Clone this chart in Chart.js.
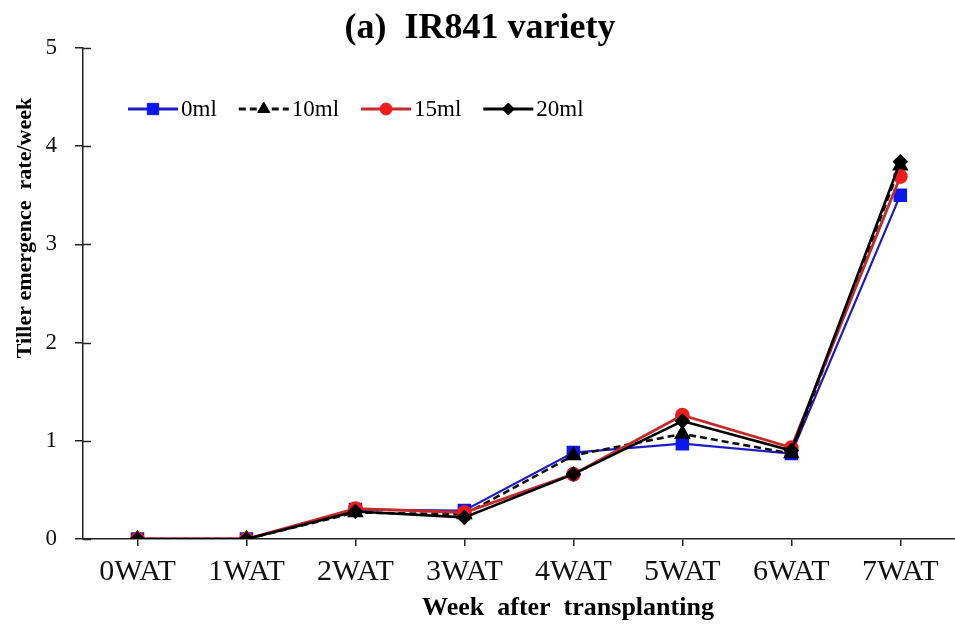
<!DOCTYPE html>
<html>
<head>
<meta charset="utf-8">
<script src="https://cdn.jsdelivr.net/npm/chart.js@4.4.1/dist/chart.umd.min.js"></script>
<style>
  html, body { margin: 0; padding: 0; background: #fff; overflow: hidden; }
  #wrap { width: 965px; height: 627px; }
</style>
</head>
<body>
<div id="wrap"><canvas id="lineChart" width="965" height="627"></canvas></div>
<script>
    // data
    var weeks = ["0WAT", "1WAT", "2WAT", "3WAT", "4WAT", "5WAT", "6WAT", "7WAT"];
    var ml0  = [0, 0, 0.30, 0.29, 0.88, 0.97, 0.87, 3.50];
    var ml10 = [0, 0, 0.27, 0.25, 0.85, 1.07, 0.87, 3.80];
    var ml15 = [0, 0, 0.31, 0.27, 0.66, 1.26, 0.93, 3.69];
    var ml20 = [0, 0, 0.28, 0.22, 0.66, 1.20, 0.90, 3.84];
    var yTicks = [0, 1, 2, 3, 4, 5];

    var serif = "'Liberation Serif', 'Times New Roman', serif";

    // text + legend drawn inside the plot like the original
    var extras = {
      id: 'extras',
      afterDraw: function(chart) {
        var ctx = chart.ctx;
        var area = chart.chartArea;
        ctx.save();
        // inner half of the y tick marks
        var ys = chart.scales.y;
        ctx.strokeStyle = '#222';
        ctx.lineWidth = 1.5;
        yTicks.forEach(function(v) {
          var py = Math.round(ys.getPixelForValue(v)) + 0.5;
          ctx.beginPath();
          ctx.moveTo(area.left, py);
          ctx.lineTo(area.left + 8, py);
          ctx.stroke();
        });

        // axis titles
        ctx.fillStyle = '#000';
        ctx.font = "bold 26px " + serif;
        ctx.textAlign = 'center';
        ctx.textBaseline = 'middle';
        ctx.fillText("Week  after  transplanting", 568, 608);
        ctx.font = "bold 22px " + serif;
        ctx.save();
        ctx.translate(25, 228);
        ctx.rotate(-Math.PI / 2);
        ctx.fillText("Tiller emergence  rate/week", 0, 0);
        ctx.restore();

        // legend
        var x = 128, y = 109;
        ctx.font = "23px " + serif;
        ctx.textAlign = 'left';
        chart.data.datasets.forEach(function(ds) {
          ctx.save();
          ctx.strokeStyle = ds.borderColor;
          ctx.lineWidth = 3;
          ctx.setLineDash(ds.borderDash || []);
          ctx.beginPath();
          ctx.moveTo(x, y);
          ctx.lineTo(x + 50, y);
          ctx.stroke();
          ctx.fillStyle = ds.backgroundColor;
          ctx.strokeStyle = ds.pointBorderColor;
          ctx.lineWidth = 1;
          ctx.setLineDash([]);
          Chart.helpers.drawPoint(ctx, {
            pointStyle: ds.pointStyle,
            radius: ds.pointRadius,
            borderWidth: 1
          }, x + 25, y);
          ctx.restore();
          ctx.fillStyle = '#000';
          ctx.fillText(ds.label, x + 53, y + 1);
          x += 53 + ctx.measureText(ds.label).width + 22;
        });
        ctx.restore();
      }
    };

    var ctxL = document.getElementById("lineChart").getContext('2d');
    var myLineChart = new Chart(ctxL, {
      type: 'line',
      data: {
        labels: weeks,
        datasets: [{
          label: "0ml",
          data: ml0,
          borderColor: "#1c1cc4",
          backgroundColor: "#0a18ee",
          pointBorderColor: "#0a18ee",
          pointStyle: 'rect',
          pointRadius: 8,
          borderWidth: 2.2,
          order: 4
        }, {
          label: "10ml",
          data: ml10,
          borderColor: "#111",
          backgroundColor: "#000",
          pointBorderColor: "#000",
          borderDash: [7, 4],
          pointStyle: 'triangle',
          pointRadius: 7,
          borderWidth: 2.6,
          order: 3
        }, {
          label: "15ml",
          data: ml15,
          borderColor: "#c42a2a",
          backgroundColor: "#ee1c1c",
          pointBorderColor: "#ee1c1c",
          pointStyle: 'circle',
          pointRadius: 6,
          borderWidth: 2.8,
          order: 2
        }, {
          label: "20ml",
          data: ml20,
          borderColor: "#000",
          backgroundColor: "#000",
          pointBorderColor: "#000",
          pointStyle: 'rectRot',
          pointRadius: 6,
          borderWidth: 2.6,
          order: 1
        }]
      },
      options: {
        responsive: false,
        animation: false,
        layout: { padding: { left: 0, right: 5, top: 0, bottom: 0 } },
        plugins: {
          legend: { display: false },
          tooltip: { enabled: false },
          title: {
            display: true,
            text: "(a)  IR841 variety",
            color: '#000',
            font: { family: serif, size: 36, weight: 'bold', lineHeight: 1.05 },
            padding: { top: 10, bottom: 0 }
          }
        },
        scales: {
          x: {
            offset: true,
            afterFit: function(s) { s.height = 88; },
            border: { display: true, color: '#222', width: 1.5 },
            grid: { display: true, drawOnChartArea: false, drawTicks: true, tickLength: 7, color: '#222', lineWidth: 1.5, offset: false },
            ticks: { color: '#111', padding: 8, font: { family: serif, size: 30 }, autoSkip: false, maxRotation: 0 }
          },
          y: {
            min: 0,
            max: 5,
            afterFit: function(s) { s.width = 83; },
            border: { display: true, color: '#222', width: 1.5 },
            grid: { display: true, drawOnChartArea: false, drawTicks: true, tickLength: 8, color: '#222', lineWidth: 1.5 },
            ticks: { stepSize: 1, color: '#111', padding: 18, font: { family: serif, size: 23 } }
          }
        }
      },
      plugins: [extras]
    });
</script>
</body>
</html>
